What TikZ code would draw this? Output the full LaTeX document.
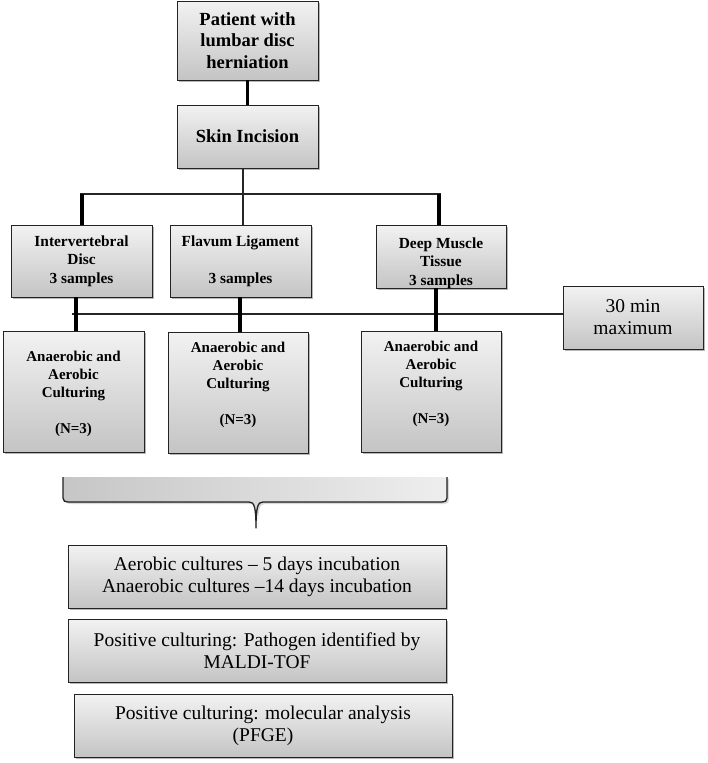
\documentclass[tikz,border=0pt]{standalone}
\usepackage{fontspec}
\setmainfont{Liberation Serif}
\usetikzlibrary{shadows,calc}
\definecolor{boxtop}{RGB}{242,242,242}
\definecolor{boxbot}{RGB}{196,196,196}
\definecolor{edge}{RGB}{35,35,35}
\definecolor{braceL}{RGB}{198,198,198}
\definecolor{braceR}{RGB}{238,238,238}
\begin{document}
\begin{tikzpicture}[x=1pt,y=-1pt,
 box/.style={draw=edge, line width=0.9pt, top color=boxtop, bottom color=boxbot,
   inner sep=0pt, align=center,
   drop shadow={shadow xshift=2pt, shadow yshift=-2pt, opacity=0.4, fill=black!70}},
 big/.style={font=\fontsize{18.5}{21.5}\selectfont\bfseries},
 mid/.style={font=\fontsize{15.4}{18.5}\selectfont\bfseries},
 cul/.style={font=\fontsize{15}{18}\selectfont\bfseries},
 reg/.style={font=\fontsize{19.5}{22}\selectfont},
 thickln/.style={line width=3.6pt, black},
 thinln/.style={line width=1.4pt, black!85},
 bracestroke/.style={line width=1.3pt, edge, line join=round}]
\useasboundingbox (0,0) rectangle (707,763);

% top boxes
\node[box,big,minimum width=141pt,minimum height=79pt] (pat) at (247.5,40.5)
  {Patient with\\lumbar disc\\herniation};
\node[box,big,minimum width=141pt,minimum height=63pt] (skin) at (247.5,136.5)
  {Skin Incision};

% sample boxes
\node[box,mid,minimum width=141pt,minimum height=72pt] (ivd) at (81.5,261)
  {Intervertebral\\Disc\\3 samples};
\node[box,mid,minimum width=141pt,minimum height=72pt] (flav) at (240.5,261)
  {Flavum Ligament\\[18.5pt]3 samples};
\node[box,minimum width=130pt,minimum height=63pt,
  label={[mid,align=center,yshift=-6.5pt]center:{Deep Muscle\\Tissue\\3 samples}}]
  (deep) at (441,256.5) {};
\node[box,reg,minimum width=140pt,minimum height=63pt] (min) at (633,317.5)
  {30 min\\maximum};

% culturing boxes
\node[box,minimum width=141pt,minimum height=121pt,
  label={[cul,align=center,yshift=-2.5pt]center:{Anaerobic and\\Aerobic\\Culturing\\[18pt](N=3)}}]
  (c1) at (73.5,391.5) {};
\node[box,minimum width=140pt,minimum height=121pt,
  label={[cul,align=center,yshift=7.5pt]center:{Anaerobic and\\Aerobic\\Culturing\\[18pt](N=3)}}]
  (c2) at (238,392.5) {};
\node[box,minimum width=140pt,minimum height=121pt,
  label={[cul,align=center,yshift=8pt]center:{Anaerobic and\\Aerobic\\Culturing\\[18pt](N=3)}}]
  (c3) at (431,391.5) {};

% bottom boxes
\node[box,reg,minimum width=378pt,minimum height=63pt] (inc) at (257,576.5)
  {Aerobic cultures – 5 days incubation\\Anaerobic cultures –14 days incubation};
\node[box,reg,minimum width=378pt,minimum height=63pt] (maldi) at (257,650.5)
  {Positive culturing: Pathogen identified by\\MALDI-TOF};
\node[box,reg,minimum width=378pt,minimum height=63pt] (pfge) at (263,725.5)
  {Positive culturing: molecular analysis\\(PFGE)};

% connectors top
\draw[thickln] (pat.south) -- (skin.north);
\coordinate (bm) at (243,194);
\coordinate (bl) at (82,194);
\coordinate (br) at (439,194);
\draw[thinln] (skin.south -| bm) -- (bm);
\draw[thinln] ($(bl)+(-1.8,0)$) -- ($(br)+(1.8,0)$);
\draw[thickln] (bl) -- (bl |- ivd.north);
\draw[thinln] (bm) -- (bm |- flav.north);
\draw[thickln] (br) -- (br |- deep.north);

% second bus
\coordinate (b2l) at (72,314);
\draw[thinln] (b2l) -- (b2l -| min.west);
\coordinate (x1) at (76,314);
\coordinate (x2) at (240,314);
\coordinate (x3) at (436,314);
\draw[thickln] (ivd.south -| x1) -- (c1.north -| x1);
\draw[thickln] (flav.south -| x2) -- (c2.north -| x2);
\draw[thickln] (deep.south -| x3) -- (c3.north -| x3);

% brace
\fill[black!25,opacity=0.6] (65,479) -- (449,479) -- (449,500)
  .. controls (449,503) and (447,504) .. (444,504) -- (265,504)
  .. controls (260,504) and (258,508) .. (258,530)
  .. controls (258,508) and (256,504) .. (251,504) -- (70,504)
  .. controls (67,504) and (65,503) .. (65,500) -- cycle;
\fill[left color=braceL,right color=braceR] (63,477) -- (447,477) -- (447,498)
  .. controls (447,501) and (445,502) .. (442,502) -- (263,502)
  .. controls (258,502) and (256,506) .. (256,528)
  .. controls (256,506) and (254,502) .. (249,502) -- (68,502)
  .. controls (65,502) and (63,501) .. (63,498) -- cycle;
\draw[bracestroke] (63,477) -- (63,498)
  .. controls (63,501) and (65,502) .. (68,502) -- (249,502)
  .. controls (254,502) and (256,506) .. (256,528)
  .. controls (256,506) and (258,502) .. (263,502) -- (442,502)
  .. controls (445,502) and (447,501) .. (447,498) -- (447,477);
\end{tikzpicture}
\end{document}
